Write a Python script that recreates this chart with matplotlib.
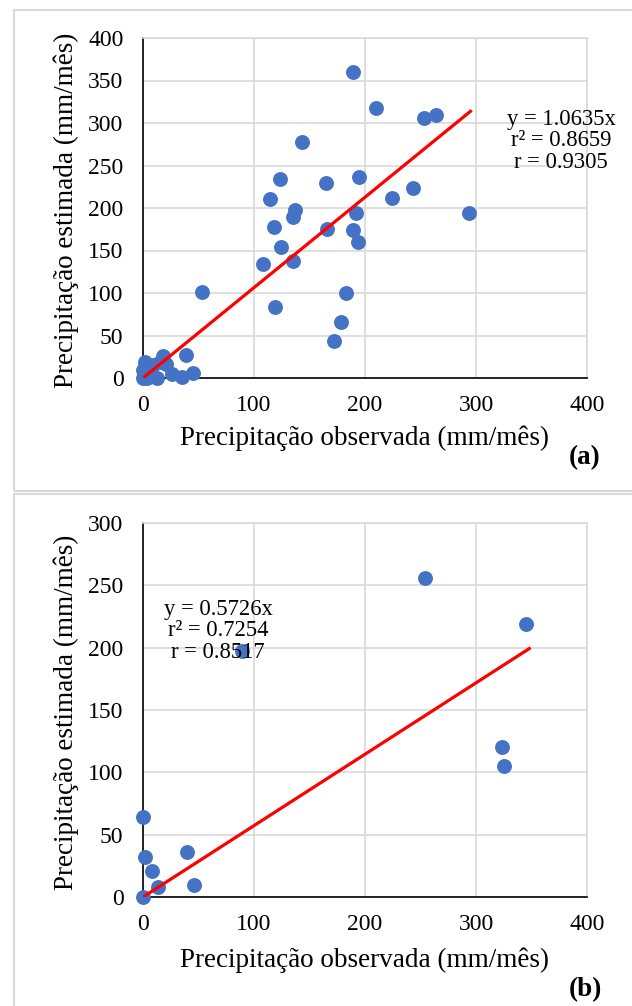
import matplotlib
matplotlib.use("Agg")
import matplotlib.pyplot as plt
from matplotlib.patches import Rectangle

plt.rcParams['font.family'] = ['Liberation Serif', 'DejaVu Serif']

# panel (a) data
obs_a = [189, 210, 253, 264, 143, 195, 123, 165, 243, 114, 224, 137, 135, 192, 294,
         118, 166, 189, 194, 124, 108, 135, 53, 183, 119, 178, 172,
         39, 45, 35, 0, 0, 2, 6, 9, 15, 18, 21, 26, 4, 13]
est_a = [360, 318, 306, 310, 278, 236, 234, 229, 224, 211, 212, 198, 190, 194, 194,
         178, 175, 174, 160, 154, 134, 138, 101, 100, 84, 66, 44,
         27, 6, 1, 0, 9, 19, 5, 15, 19, 26, 16, 5, 0, 0]
slope_a = 1.0635
line_a_x = [0, 295]
eq_a = ["y = 1.0635x", "r² = 0.8659", "r = 0.9305"]

# panel (b) data
obs_b = [254, 345, 89, 323, 325, 0, 2, 40, 8, 13.5, 46, 0]
est_b = [256, 219, 197, 120, 105, 64, 32, 36, 21, 8, 10, 0]
slope_b = 0.5726
line_b_x = [0, 348]
eq_b = ["y = 0.5726x", "r² = 0.7254", "r = 0.8517"]

W, H = 632, 1006
fig = plt.figure(figsize=(W / 100, H / 100), dpi=100)

blue = "#4472C4"
grid = "#D9D9D9"
fs_tick = 17
fs_title = 19.5
fs_eq = 16.3


def fx(px):
    return px / W


def fy(py):
    return 1 - py / H


# panel frames
fig.patches.append(Rectangle((fx(13.5), fy(491)), fx(640), fy(10) - fy(491),
                             transform=fig.transFigure, fill=False,
                             edgecolor=grid, lw=1.5))
fig.patches.append(Rectangle((fx(13.5), fy(1020)), fx(640), fy(494) - fy(1020),
                             transform=fig.transFigure, fill=False,
                             edgecolor=grid, lw=1.5))


def panel(rect, xs, ys, slope, lx, ymax, eq, eq_x, eq_y, tag, tag_y, ylab_y, xlab_y):
    ax = fig.add_axes(rect)
    ax.set_xlim(0, 400)
    ax.set_ylim(0, ymax)
    ax.set_xticks(range(0, 401, 100))
    ax.set_yticks(range(0, ymax + 1, 50))
    ax.grid(True, color=grid, lw=1.2)
    ax.set_axisbelow(True)
    for s in ("top", "right"):
        ax.spines[s].set_color(grid)
        ax.spines[s].set_linewidth(1.2)
    for s in ("left", "bottom"):
        ax.spines[s].set_color("black")
        ax.spines[s].set_linewidth(1.2)
    ax.tick_params(length=0, labelsize=fs_tick)
    ax.tick_params(axis="y", pad=14)
    ax.tick_params(axis="x", pad=12)
    ax.scatter(xs, ys, s=115, color=blue, zorder=3, clip_on=False, linewidths=0)
    ax.plot(lx, [slope * v for v in lx], color="red", lw=2.3, zorder=4)
    for i, line in enumerate(eq):
        fig.text(fx(eq_x), fy(eq_y + 22 * i), line, ha="center", va="center",
                 fontsize=fs_eq)
    fig.text(fx(585), fy(tag_y), tag, ha="center", va="center",
             fontsize=fs_title, fontweight="bold")
    fig.text(fx(66), fy(ylab_y), "Precipitação estimada (mm/mês)", rotation=90,
             ha="center", va="center", fontsize=fs_title)
    fig.text(fx(364), fy(xlab_y), "Precipitação observada (mm/mês)",
             ha="center", va="center", fontsize=fs_title)
    return ax


panel([fx(143), fy(378), fx(587) - fx(143), fy(38) - fy(378)],
      obs_a, est_a, slope_a, line_a_x, 400, eq_a, 561, 119, "(a)", 458, 210, 438)
panel([fx(143), fy(897), fx(587) - fx(143), fy(523) - fy(897)],
      obs_b, est_b, slope_b, line_b_x, 300, eq_b, 218, 609, "(b)", 990, 712, 960)

fig.savefig("out.png", dpi=100)
